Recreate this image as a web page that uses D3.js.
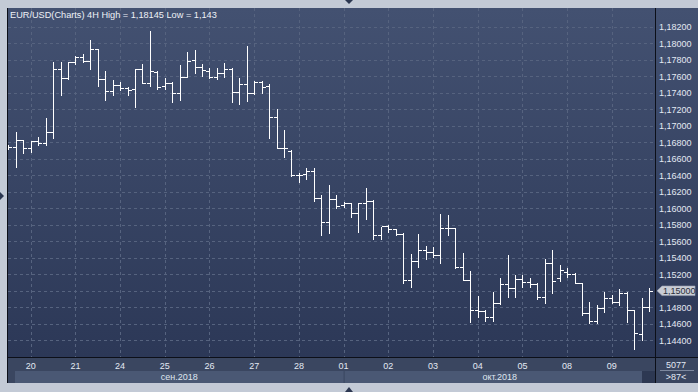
<!DOCTYPE html>
<html>
<head>
<meta charset="utf-8">
<script src="https://cdn.jsdelivr.net/npm/d3@7"></script>
<style>
body { margin: 0; background: #c3cad6; }
svg { display: block; font-family: "Liberation Sans", Arial, sans-serif; }
</style>
</head>
<body>
<div id="chart"></div>
<script>
// EUR/USD 4H bars, 19 Sep (last 3 bars) .. 09 Oct 2018
var opens = [1.16755,1.16739,1.16828,1.16727,1.16812,1.16788,1.16921,1.17692,1.17576,1.17770,
  1.17838,1.17782,1.17927,1.17564,1.17418,1.17491,1.17462,1.17442,1.17685,1.17515,
  1.17652,1.17482,1.17515,1.17394,1.17595,1.17798,1.17716,1.17664,1.17588,1.17636,
  1.17685,1.17406,1.17503,1.17394,1.17535,1.17486,1.17103,1.16735,1.16695,1.16404,
  1.16412,1.16452,1.16121,1.15830,1.16116,1.16040,1.16068,1.15939,1.16068,1.16092,
  1.15673,1.15785,1.15745,1.15685,1.15131,1.15365,1.15495,1.15474,1.15430,1.15758,
  1.15758,1.15292,1.15131,1.14767,1.14759,1.14679,1.14848,1.15082,1.15038,1.15139,
  1.15110,1.15082,1.14929,1.15333,1.15155,1.15232,1.15204,1.15098,1.14727,1.14638,
  1.14788,1.14909,1.14868,1.14977,1.14764,1.14473,1.14800];
var highs = [1.16773,1.16928,1.16828,1.16819,1.16868,1.17095,1.17777,1.17770,1.17770,1.17846,
  1.17870,1.18040,1.17930,1.17664,1.17555,1.17531,1.17467,1.17685,1.17749,1.18145,
  1.17661,1.17576,1.17525,1.17737,1.17891,1.17919,1.17745,1.17697,1.17697,1.17758,
  1.17697,1.17583,1.17967,1.17543,1.17547,1.17503,1.17200,1.16949,1.16707,1.16431,
  1.16485,1.16492,1.16161,1.16282,1.16161,1.16080,1.16070,1.16068,1.16242,1.16101,
  1.15777,1.15798,1.15750,1.15697,1.15446,1.15688,1.15543,1.15535,1.15931,1.15919,
  1.15760,1.15455,1.15244,1.14937,1.14767,1.14989,1.15152,1.15434,1.15191,1.15191,
  1.15152,1.15090,1.15382,1.15495,1.15313,1.15273,1.15219,1.15100,1.14868,1.14828,
  1.14989,1.14949,1.15018,1.14980,1.14770,1.14909,1.15030];
var lows = [1.16719,1.16497,1.16674,1.16686,1.16767,1.16767,1.16856,1.17373,1.17570,1.17745,
  1.17770,1.17685,1.17482,1.17313,1.17373,1.17434,1.17373,1.17232,1.17515,1.17482,
  1.17442,1.17442,1.17292,1.17313,1.17590,1.17644,1.17607,1.17583,1.17567,1.17595,
  1.17292,1.17261,1.17301,1.17390,1.17401,1.16848,1.16727,1.16625,1.16395,1.16322,
  1.16355,1.16092,1.15676,1.15704,1.16000,1.16019,1.15891,1.15716,1.15867,1.15624,
  1.15624,1.15716,1.15676,1.15098,1.15042,1.15285,1.15382,1.15406,1.15341,1.15673,
  1.15273,1.15131,1.14625,1.14686,1.14628,1.14638,1.14840,1.14929,1.14929,1.15050,
  1.15042,1.14897,1.14848,1.14970,1.15120,1.15164,1.15091,1.14707,1.14606,1.14606,
  1.14747,1.14848,1.14828,1.14625,1.14300,1.14404,1.14759];
var closes = [1.16747,1.16828,1.16727,1.16812,1.16788,1.16921,1.17685,1.17576,1.17770,1.17838,
  1.17782,1.17927,1.17564,1.17418,1.17491,1.17462,1.17434,1.17685,1.17515,1.17661,
  1.17474,1.17515,1.17401,1.17595,1.17785,1.17716,1.17676,1.17588,1.17636,1.17685,
  1.17406,1.17503,1.17394,1.17527,1.17474,1.17103,1.16735,1.16735,1.16400,1.16407,
  1.16452,1.16128,1.15830,1.16116,1.16028,1.16061,1.15939,1.16068,1.16092,1.15673,
  1.15785,1.15745,1.15685,1.15131,1.15365,1.15495,1.15474,1.15430,1.15758,1.15758,
  1.15292,1.15131,1.14767,1.14759,1.14686,1.14848,1.15082,1.15038,1.15139,1.15110,
  1.15082,1.14929,1.15333,1.15122,1.15252,1.15204,1.15098,1.14727,1.14638,1.14788,
  1.14909,1.14868,1.14977,1.14764,1.14485,1.14800,1.15000];

var dayLabels = ["20","21","24","25","26","27","28","01","02","03","04","05","08","09"];
var firstDayBar = 3;      // bars of 19 Sep before the first label
var barsPerDay = 6;
var months = ["сен.2018", "окт.2018"];
var monthStartDay = [0, 7];   // index into dayLabels
var priceTicks = d3.range(1.144, 1.1821, 0.002);
var lastPrice = 1.15000;
var titleText = "EUR/USD(Charts) 4H  High = 1,18145 Low = 1,143";

var W = 698, H = 392;
var plot = {left: 8, top: 8, right: 655, bottom: 357};

var fmt = function (v) { return d3.format(".5f")(v).replace(".", ","); };

var svg = d3.select("#chart").append("svg")
    .attr("width", W)
    .attr("height", H);

var defs = svg.append("defs");
var grad = defs.append("linearGradient").attr("id", "bg").attr("x1", 0).attr("y1", 0).attr("x2", 0).attr("y2", 1);
grad.append("stop").attr("offset", "0%").attr("stop-color", "#435171");
grad.append("stop").attr("offset", "100%").attr("stop-color", "#2c3857");
defs.append("clipPath").attr("id", "plotclip").append("rect")
    .attr("x", plot.left).attr("y", plot.top)
    .attr("width", plot.right - plot.left).attr("height", plot.bottom - plot.top);

// frame
svg.append("rect").attr("width", W).attr("height", H).attr("fill", "#c3cad6");
svg.append("rect").attr("x", plot.left).attr("y", plot.top)
    .attr("width", W - plot.left).attr("height", plot.bottom - plot.top)
    .attr("fill", "url(#bg)");
svg.append("rect").attr("x", plot.left).attr("y", plot.bottom)
    .attr("width", W - plot.left).attr("height", 383 - plot.bottom)
    .attr("fill", "#3a4660");

var x = d3.scaleLinear().domain([0, opens.length - 1]).range([8.35, 649.05]);
var y = d3.scaleLinear().domain([1.144, 1.182]).range([340.3, 26.8]);

var dayBars = dayLabels.map(function (d, i) { return firstDayBar + i * barsPerDay; });

// grid
var grid = svg.append("g").attr("clip-path", "url(#plotclip)")
    .attr("stroke", "#56637f").attr("stroke-dasharray", "3,3").attr("shape-rendering", "crispEdges");
grid.selectAll(".hg").data(priceTicks).enter().append("line")
    .attr("x1", plot.left).attr("x2", plot.right)
    .attr("y1", function (d) { return Math.round(y(d)) + 0.5; })
    .attr("y2", function (d) { return Math.round(y(d)) + 0.5; });
grid.selectAll(".vg").data(dayBars).enter().append("line")
    .attr("y1", plot.top).attr("y2", plot.bottom)
    .attr("x1", function (d) { return Math.round(x(d)) + 0.5; })
    .attr("x2", function (d) { return Math.round(x(d)) + 0.5; });

// OHLC bars
var half = 3.7;
var bars = opens.map(function (o, i) {
    return {i: i, o: o, h: highs[i], l: lows[i], c: closes[i]};
});
svg.append("g").attr("clip-path", "url(#plotclip)")
    .selectAll("path").data(bars).enter().append("path")
    .attr("fill", "none")
    .attr("stroke", "#ffffff")
    .attr("stroke-width", 1.2)
    .attr("shape-rendering", "crispEdges")
    .attr("d", function (d) {
        var cx = Math.round(x(d.i)) + 0.5;
        var yo = Math.round(y(d.o)) + 0.5, yc = Math.round(y(d.c)) + 0.5;
        var yh = Math.round(y(d.h)), yl = Math.round(y(d.l)) + 1;
        return "M" + (cx - half) + "," + yo + "H" + cx +
            "M" + cx + "," + yh + "V" + yl +
            "M" + cx + "," + yc + "H" + (cx + half);
    });

// separators
var sep = svg.append("g").attr("stroke", "#0c0f18").attr("shape-rendering", "crispEdges");
sep.append("line").attr("x1", plot.left).attr("x2", W).attr("y1", plot.bottom + 0.5).attr("y2", plot.bottom + 0.5);
sep.append("line").attr("x1", plot.right + 0.5).attr("x2", plot.right + 0.5).attr("y1", plot.top).attr("y2", 383);
sep.append("line").attr("x1", 7.5).attr("x2", 7.5).attr("y1", plot.top).attr("y2", 383);

// title
svg.append("text").attr("x", 10).attr("y", 18)
    .attr("font-size", 9.2).attr("fill", "#eef1f7")
    .text(titleText);

// right price axis (the tick at the last price is covered by the marker)
svg.append("g").selectAll("text")
    .data(priceTicks.filter(function (d) { return Math.abs(d - lastPrice) > 0.0005; }))
    .enter().append("text")
    .attr("x", 659).attr("y", function (d) { return y(d) + 3.3; })
    .attr("font-size", 9).attr("fill", "#e3e9f3")
    .text(fmt);

// current price marker
var yp = y(lastPrice);
svg.append("path")
    .attr("d", "M657," + yp + "L662," + (yp - 4.8) + "H695V" + (yp + 4.8) + "H662Z")
    .attr("fill", "#c9cdd5").attr("stroke", "#9aa3b3").attr("stroke-width", 0.6);
svg.append("text").attr("x", 663).attr("y", yp + 3.3)
    .attr("font-size", 9).attr("fill", "#2a2f3b")
    .text(fmt(lastPrice));

// bottom axis: days
svg.append("g").selectAll("text").data(dayLabels).enter().append("text")
    .attr("x", function (d, i) { return x(dayBars[i]); })
    .attr("y", 369)
    .attr("text-anchor", "middle")
    .attr("font-size", 9).attr("fill", "#e3e9f3")
    .text(function (d) { return d; });

// bottom axis: months
var monthBands = months.map(function (m, i) {
    var start = i === 0 ? 15 : x(dayBars[monthStartDay[i]]) + 1;
    var end = i === months.length - 1 ? plot.right : x(dayBars[monthStartDay[i + 1]]);
    return {label: m, x0: start, x1: end};
});
var mb = svg.append("g");
mb.selectAll("rect").data(monthBands).enter().append("rect")
    .attr("x", function (d) { return d.x0; }).attr("y", 371)
    .attr("width", function (d) { return d.x1 - d.x0; }).attr("height", 12)
    .attr("fill", "#4a5874");
mb.append("rect").attr("x", 642).attr("y", 371).attr("width", 13).attr("height", 12).attr("fill", "#2d3852");
mb.selectAll("text").data(monthBands).enter().append("text")
    .attr("x", function (d) { return (d.x0 + d.x1) / 2; })
    .attr("y", 380)
    .attr("text-anchor", "middle")
    .attr("font-size", 9).attr("fill", "#dfe5ef")
    .text(function (d) { return d.label; });

// bottom-right info box
svg.append("text").attr("x", 676).attr("y", 368).attr("text-anchor", "middle")
    .attr("font-size", 9).attr("fill", "#e3e9f3").text("5077");
svg.append("line").attr("x1", 660).attr("x2", 694).attr("y1", 370.5).attr("y2", 370.5)
    .attr("stroke", "#7d889e");
svg.append("text").attr("x", 676).attr("y", 380).attr("text-anchor", "middle")
    .attr("font-size", 9).attr("fill", "#e3e9f3").text(">87<");

// scroll arrows in the frame
var arr = svg.append("g").attr("fill", "#2b3650");
arr.append("path").attr("d", "M345,0H353L349,4Z");
arr.append("path").attr("d", "M0,192V200L4,196Z");
arr.append("path").attr("d", "M345,392H353L349,387Z");
</script>
</body>
</html>
